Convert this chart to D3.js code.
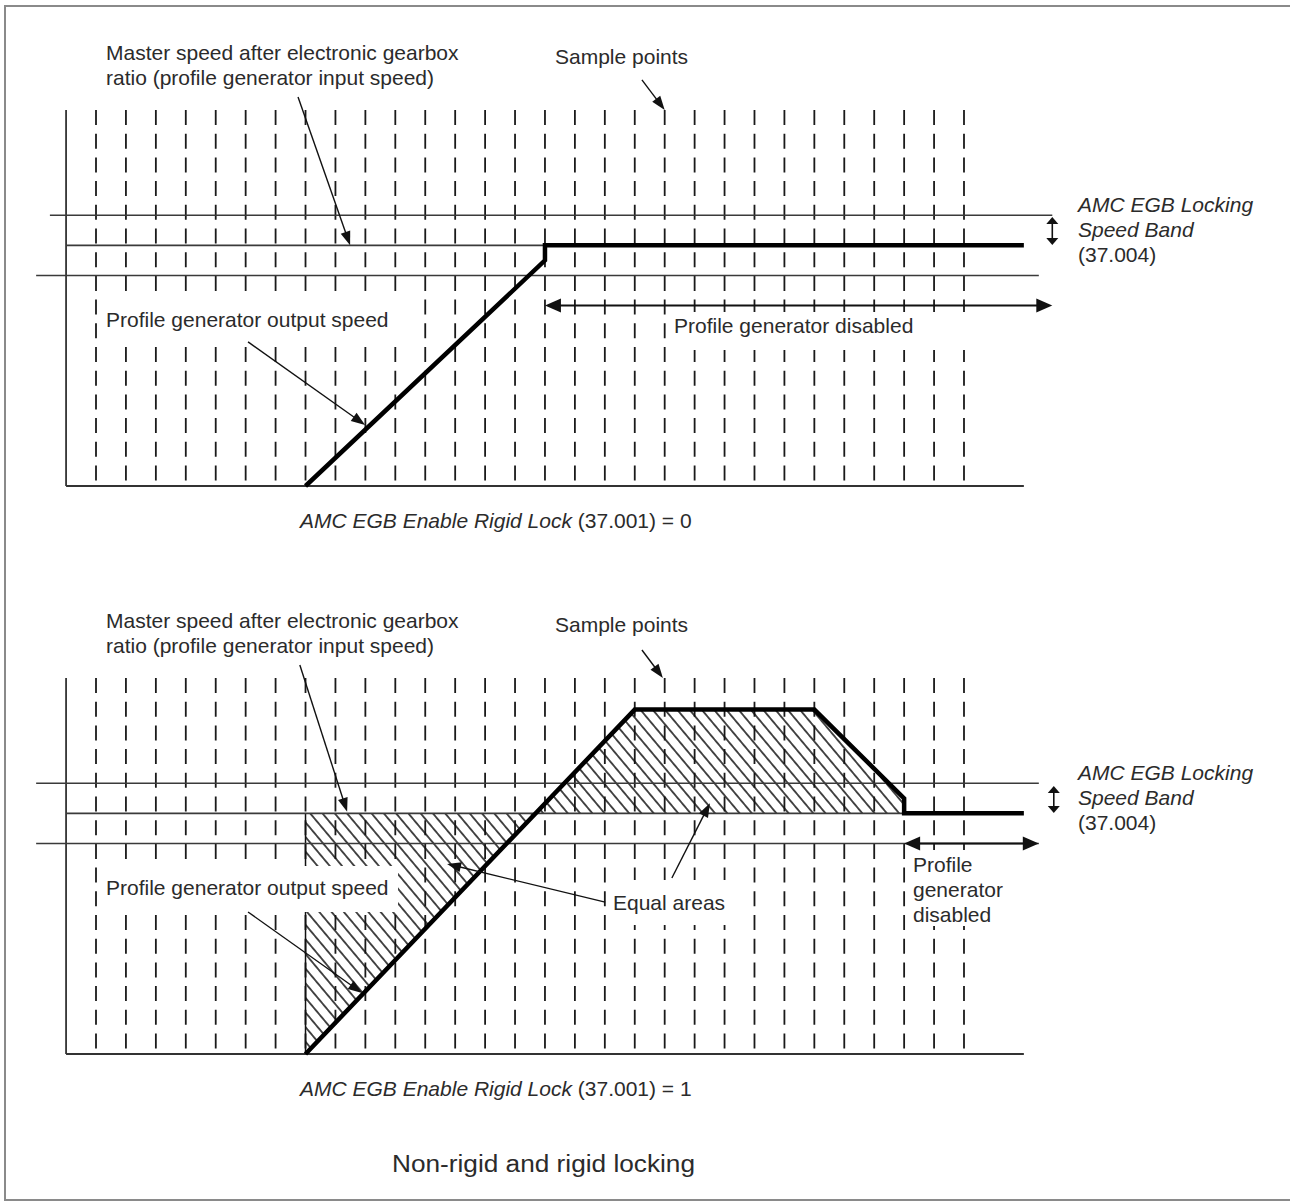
<!DOCTYPE html>
<html><head><meta charset="utf-8">
<script src="https://cdn.jsdelivr.net/npm/d3@7"></script>
<style>
html,body{margin:0;padding:0;background:#fff;}
svg{display:block;}
text{font-family:"Liberation Sans",Arial,Helvetica,sans-serif;fill:#2b2b2b;font-size:21px;}
</style></head><body>
<svg id="c" width="1290" height="1202"></svg>
<script>
// ---------------- data ----------------
const samplePoints = [0,1,2,3,4,5,6,7,8,9,10,11,12,13,14,15,16,17,18,19,20,21,22,23,24,25,26,27,28,29];
const masterSpeed = 8;
const bandLower = 7;
const bandUpper = 9;
const nonRigidTime  = [7, 15, 15, 31];
const nonRigidSpeed = [0, 7.5, 8, 8];
const rigidTime  = [7, 18, 24, 27, 27, 31];
const rigidSpeed = [0, 11.45, 11.45, 8.5, 8, 8];
const topDisabledFrom = 15, topDisabledLevel = 6;
const botDisabledFrom = 27;
const captions = ["AMC EGB Enable Rigid Lock", "AMC EGB Enable Rigid Lock"];
const captionValues = [" (37.001) = 0", " (37.001) = 1"];
const title = "Non-rigid and rigid locking";

// ---------------- scales ----------------
const x = d3.scaleLinear().domain([0, 29]).range([96, 964]);
const y = d3.scaleLinear().domain([0, 12.5]).range([486, 110]);
const svg = d3.select("#c");

// frame
svg.append("rect").attr("x",5).attr("y",6).attr("width",1300).attr("height",1194)
  .attr("fill","none").attr("stroke","#8a8a8a").attr("stroke-width",2);

const defs = svg.append("defs");
const pat = defs.append("pattern").attr("id","hatch").attr("patternUnits","userSpaceOnUse")
  .attr("width",9.4).attr("height",9.4).attr("patternTransform","rotate(-40)");
pat.append("line").attr("x1",4.7).attr("y1",0).attr("x2",4.7).attr("y2",9.4)
  .attr("stroke","#111").attr("stroke-width",1.5);

const lineGen = d3.line().x(d=>x(d[0])).y(d=>y(d[1]));

function arrowHead(g, x1,y1,x2,y2,L,W){
  const dx=x2-x1, dy=y2-y1, len=Math.hypot(dx,dy), ux=dx/len, uy=dy/len;
  const bx=x2-ux*L, by=y2-uy*L;
  g.append("polygon").attr("points",
    `${x2},${y2} ${bx-uy*W/2},${by+ux*W/2} ${bx+uy*W/2},${by-ux*W/2}`).attr("fill","#111");
}
function arrow(g, a, b, opt={}){
  const L=opt.L||14, W=opt.W||10, sw=opt.sw||1.4;
  const x1=x(a[0]), y1=y(a[1]), x2=x(b[0]), y2=y(b[1]);
  const dx=x2-x1, dy=y2-y1, len=Math.hypot(dx,dy), ux=dx/len, uy=dy/len;
  const s = opt.both ? L*0.8 : 0;
  g.append("line").attr("x1",x1+ux*s).attr("y1",y1+uy*s)
    .attr("x2",x2-ux*L*0.8).attr("y2",y2-uy*L*0.8)
    .attr("stroke","#111").attr("stroke-width",sw);
  arrowHead(g,x1,y1,x2,y2,L,W);
  if(opt.both) arrowHead(g,x2,y2,x1,y1,L,W);
}
function hline(g, v, t0, t1, sw, col){
  g.append("line").attr("x1",x(t0)).attr("x2",x(t1)).attr("y1",y(v)).attr("y2",y(v))
   .attr("stroke",col||"#3a3a3a").attr("stroke-width",sw||1.6);
}
function whiteBox(g, bx,by,bw,bh){
  g.append("rect").attr("x",bx).attr("y",by).attr("width",bw).attr("height",bh).attr("fill","#fff");
}
function label(g, tx, ty, lines, italic){
  lines.forEach((s,i)=>{
    g.append("text").attr("x",tx).attr("y",ty+i*25).text(s)
     .style("font-style", italic&&italic[i] ? "italic" : "normal");
  });
}

function panel(offset, rigid){
  const g = svg.append("g").attr("transform",`translate(0,${offset})`);
  const tArr = rigid ? rigidTime : nonRigidTime;
  const sArr = rigid ? rigidSpeed : nonRigidSpeed;
  const prof = tArr.map((t,i)=>[t, sArr[i]]);

  // sample lines
  g.selectAll("line.sample").data(samplePoints).enter().append("line")
   .attr("class","sample")
   .attr("x1",d=>x(d)).attr("x2",d=>x(d)).attr("y1",y(12.5)).attr("y2",y(0))
   .attr("stroke","#1a1a1a").attr("stroke-width",1.8).attr("stroke-dasharray","15 8.7");

  // axes
  g.append("line").attr("x1",x(-1)).attr("x2",x(-1)).attr("y1",y(12.5)).attr("y2",y(0))
   .attr("stroke","#333").attr("stroke-width",1.8);
  g.append("line").attr("x1",x(-1)).attr("x2",x(31)).attr("y1",y(0)).attr("y2",y(0))
   .attr("stroke","#333").attr("stroke-width",1.8);

  // hatch areas
  let meet;
  if(rigid){
    // crossing of the rising edge with the master speed
    const tc = tArr[0] + (tArr[1]-tArr[0])*(masterSpeed - sArr[0])/(sArr[1]-sArr[0]);
    const areaA = [[tArr[0], masterSpeed],[tc, masterSpeed],[tArr[0], sArr[0]]];
    const areaB = [[tc, masterSpeed],[tArr[1],sArr[1]],[tArr[2],sArr[2]],[tArr[3],sArr[3]],[tArr[4],sArr[4]]];
    [areaA, areaB].forEach(a=>{
      g.append("path").attr("d", lineGen(a)+"Z").attr("fill","url(#hatch)").attr("stroke","none");
    });
    g.append("line").attr("x1",x(tArr[0])).attr("x2",x(tArr[0])).attr("y1",y(masterSpeed)).attr("y2",y(0))
      .attr("stroke","#111").attr("stroke-width",1.5);
    meet = tArr[4];
  } else {
    meet = tArr[2];
  }

  // white boxes behind labels
  if(!rigid){
    whiteBox(g, 100, 296, 303, 50);
    whiteBox(g, 668, 312, 302, 38);
  } else {
    whiteBox(g, 100, 298, 298, 46);
    whiteBox(g, 608, 312, 122, 45);
    whiteBox(g, 908, 282, 104, 76);
  }

  // band lines & master speed
  hline(g, bandUpper, rigid ? -2 : -1.54, rigid ? 31.5 : 31.95);
  hline(g, masterSpeed, -1, meet);
  hline(g, bandLower, -2, 31.5);

  // profile generator output
  g.append("path").attr("d", lineGen(prof)).attr("fill","none")
   .attr("stroke","#000").attr("stroke-width",4.5).attr("stroke-linejoin","miter");

  // annotation arrows
  if(!rigid){
    arrow(g,[6.75,12.93],[8.49,8.0]);
    arrow(g,[18.24,13.5],[19,12.5]);
    arrow(g,[5.08,4.79],[8.99,2.03]);
    arrow(g,[topDisabledFrom,topDisabledLevel],[31.95,topDisabledLevel],{both:true,L:16,W:14,sw:2});
    arrow(g,[31.95,8.94],[31.95,8.01],{both:true,L:7,W:12,sw:1.6});
  } else {
    arrow(g,[6.81,12.93],[8.39,8.05]);
    arrow(g,[18.24,13.43],[18.94,12.5]);
    arrow(g,[5.08,4.72],[8.89,2.03]);
    arrow(g,[17.01,5.05],[11.73,6.32]);
    arrow(g,[19.24,5.85],[20.51,8.34]);
    arrow(g,[botDisabledFrom,bandLower],[31.5,bandLower],{both:true,L:16,W:14,sw:2});
    arrow(g,[32.0,8.91],[32.0,8.01],{both:true,L:7,W:12,sw:1.6});
  }

  // labels
  label(g, 106, 60, ["Master speed after electronic gearbox","ratio (profile generator input speed)"]);
  label(g, 555, 64, ["Sample points"]);
  label(g, 106, 327, ["Profile generator output speed"]);
  label(g, 1078, 212, ["AMC EGB Locking","Speed Band","(37.004)"], [true,true,false]);
  if(!rigid){
    label(g, 674, 333, ["Profile generator disabled"]);
  } else {
    label(g, 613, 342, ["Equal areas"]);
    label(g, 913, 304, ["Profile","generator","disabled"]);
  }
  const cap = g.append("text").attr("x",300).attr("y",528);
  cap.append("tspan").style("font-style","italic").text(captions[rigid?1:0]);
  cap.append("tspan").text(captionValues[rigid?1:0]);
}

panel(0, false);
panel(568, true);

svg.append("text").attr("x",392).attr("y",1172).style("font-size","23px")
  .attr("textLength",303).attr("lengthAdjust","spacingAndGlyphs").text(title);
</script>
</body></html>
